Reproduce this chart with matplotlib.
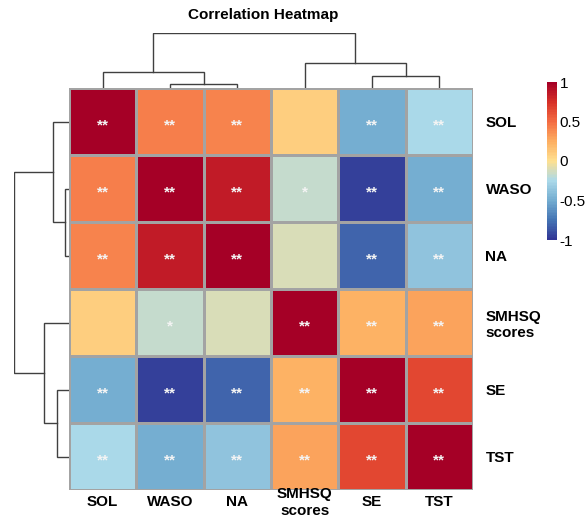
import numpy as np
import matplotlib
matplotlib.use('Agg')
import matplotlib.pyplot as plt
from matplotlib.colors import LinearSegmentedColormap, Normalize
from matplotlib.colorbar import ColorbarBase

plt.rcParams['font.family'] = ['Liberation Sans', 'DejaVu Sans']
plt.rcParams['axes.unicode_minus'] = False

# variables, already in clustered order
labels = ['SOL', 'WASO', 'NA', 'SMHSQ\nscores', 'SE', 'TST']

corr = np.array([
    [ 1.00,  0.43,  0.41,  0.08, -0.49, -0.26],
    [ 0.43,  1.00,  0.85, -0.17, -0.96, -0.49],
    [ 0.41,  0.85,  1.00, -0.12, -0.81, -0.38],
    [ 0.08, -0.17, -0.12,  1.00,  0.22,  0.29],
    [-0.49, -0.96, -0.81,  0.22,  1.00,  0.64],
    [-0.26, -0.49, -0.38,  0.29,  0.64,  1.00],
])

signif = [
    ['**', '**', '**', '',   '**', '**'],
    ['**', '**', '**', '*',  '**', '**'],
    ['**', '**', '**', '',   '**', '**'],
    ['',   '*',  '',   '**', '**', '**'],
    ['**', '**', '**', '**', '**', '**'],
    ['**', '**', '**', '**', '**', '**'],
]

# merges: (child a, child b, height); ids >= 6 are earlier merges
linkage = [
    (1, 2, 4.0),
    (4, 5, 12.5),
    (0, 6, 16.0),
    (3, 7, 25.5),
    (8, 9, 55.0),
]

palette = ['#313695', '#4575B4', '#74ADD1', '#ABD9E9', '#FEE090',
           '#FDAE61', '#F46D43', '#D73027', '#A50026']
cmap = LinearSegmentedColormap.from_list('rdylbu9', palette, N=100)
norm = Normalize(vmin=-1, vmax=1)

W, H = 585, 521
fig = plt.figure(figsize=(W / 100, H / 100), dpi=100)


def px_axes(x0, y0, x1, y1):
    return fig.add_axes([x0 / W, 1 - y1 / H, (x1 - x0) / W, (y1 - y0) / H])


def draw_dendro(ax, orient):
    n = len(labels)
    pos = {i: i + 0.5 for i in range(n)}
    hgt = {i: 0.0 for i in range(n)}
    for k, (a, b, h) in enumerate(linkage):
        xs = [pos[a], pos[a], pos[b], pos[b]]
        ys = [hgt[a], h, h, hgt[b]]
        if orient == 'top':
            ax.plot(xs, ys, color='#404040', lw=1.0, solid_joinstyle='miter')
        else:
            ax.plot(ys, xs, color='#404040', lw=1.0, solid_joinstyle='miter')
        pos[n + k] = (pos[a] + pos[b]) / 2
        hgt[n + k] = h
    ax.set_axis_off()


hx0, hx1, hy0, hy1 = 69, 473, 88, 490
top_h = linkage[-1][2]

# heatmap
ax = px_axes(hx0, hy0, hx1, hy1)
ax.pcolormesh(corr, cmap=cmap, norm=norm, edgecolors='#a3a3a3', linewidth=0.8)
ax.set_xlim(0, 6)
ax.set_ylim(6, 0)
for i in range(6):
    for j in range(6):
        if signif[i][j]:
            ax.text(j + 0.5, i + 0.56, signif[i][j], color='#f4f4f4',
                    ha='center', va='center', fontsize=11, fontweight='bold')
for s in ax.spines.values():
    s.set_visible(False)
ax.set_xticks(np.arange(6) + 0.5, labels=labels, fontsize=11, fontweight='bold')
ax.yaxis.tick_right()
ax.set_yticks(np.arange(6) + 0.5, labels=labels, fontsize=11, fontweight='bold')
ax.tick_params(axis='x', length=0, pad=9)
ax.tick_params(axis='y', length=0, pad=9)
for lbl in ax.get_xticklabels():
    lbl.set_va('center')
    lbl.set_multialignment('center')
for lbl in ax.get_yticklabels():
    lbl.set_multialignment('left')

# column dendrogram
axt = px_axes(hx0, hy0 - top_h, hx1, hy0)
axt.set_xlim(0, 6)
axt.set_ylim(0, top_h)
draw_dendro(axt, 'top')

# row dendrogram
axl = px_axes(hx0 - top_h, hy0, hx0, hy1)
axl.set_ylim(6, 0)
axl.set_xlim(top_h, 0)
draw_dendro(axl, 'left')

fig.text(263 / W, 1 - 15 / H, 'Correlation Heatmap', ha='center', va='center',
         fontsize=11, fontweight='bold')

# colour key
cax = px_axes(547, 82, 557, 240)
cb = ColorbarBase(cax, cmap=cmap, norm=norm, orientation='vertical')
cb.outline.set_visible(False)
cb.set_ticks([-1, -0.5, 0, 0.5, 1], labels=['-1', '-0.5', '0', '0.5', '1'])
cax.tick_params(length=0, labelsize=11, pad=2)

fig.savefig('out.png', dpi=100, facecolor='white')
